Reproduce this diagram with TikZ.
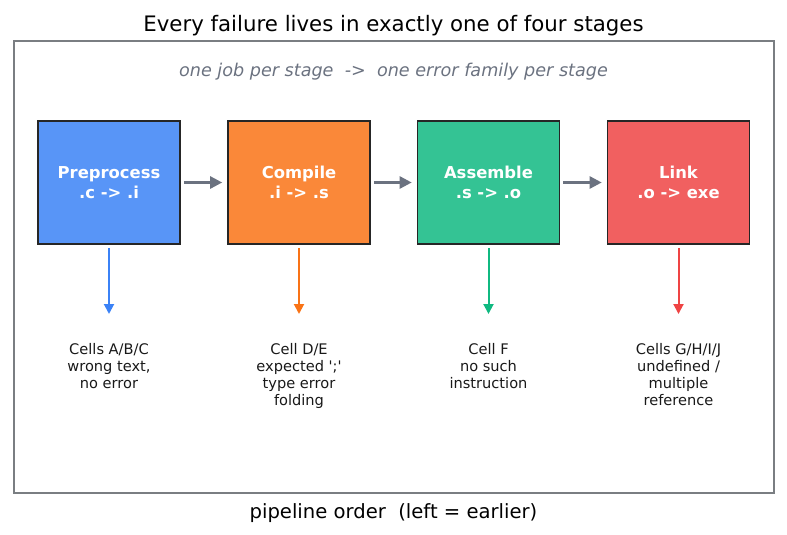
\documentclass[tikz,border=0pt]{standalone}
\usepackage{fontspec}
\setmainfont{DejaVu Sans}
\newfontfamily\plaindejavu{DejaVu Sans}
\usetikzlibrary{arrows.meta,positioning}
\definecolor{stageblue}{RGB}{88,149,247}
\definecolor{stageorange}{RGB}{250,136,57}
\definecolor{stagegreen}{RGB}{52,195,148}
\definecolor{stagered}{RGB}{241,96,96}
\definecolor{lineblue}{RGB}{59,130,246}
\definecolor{lineorange}{RGB}{249,115,22}
\definecolor{linegreen}{RGB}{16,185,129}
\definecolor{linered}{RGB}{239,68,68}
\definecolor{flowgray}{RGB}{107,114,128}
\definecolor{framegray}{RGB}{122,126,130}
\tikzset{
  stagebox/.style={draw=black!85, line width=1.6pt, minimum width=142pt, minimum height=123pt,
    inner sep=0pt, text=white, align=center, font=\bfseries\fontsize{16.4}{20}\selectfont},
  flow/.style={draw=flowgray, line width=2.5pt, -{Stealth[length=12pt,width=12pt,inset=0pt]}},
  drop/.style={line width=2pt, -{Stealth[length=10pt,width=10pt,inset=0pt]}},
  cellnote/.style={align=center, font=\plaindejavu\fontsize{14.6}{17}\selectfont, text=black!90},
}
\begin{document}
\begin{tikzpicture}[x=1pt,y=-1pt]
\useasboundingbox (0,0) rectangle (787,535);
% title, frame and captions
\node (title) at (393.5,25.5) {\fontsize{21.3}{24}\selectfont Every failure lives in exactly one of four stages};
\draw [framegray, line width=1.3pt] (14,41) rectangle (774,493);
\node [text=flowgray] (motto) at (393.5,72) {\fontsize{17.6}{20}\selectfont\itshape one job per stage\ \ ->\ \ one error family per stage};
\node (axis) at (393.5,513) {\fontsize{19.6}{22}\selectfont pipeline order\ \ (left = earlier)};
% stages
\node [stagebox, fill=stageblue] (pre) at (109,182.5) {Preprocess\\.c -> .i};
\node [stagebox, fill=stageorange] (comp) at (299,182.5) {Compile\\.i -> .s};
\node [stagebox, fill=stagegreen] (asm) at (488.5,182.5) {Assemble\\.s -> .o};
\node [stagebox, fill=stagered] (link) at (678.5,182.5) {Link\\.o -> exe};
\draw [flow] ([xshift=3pt]pre.east) -- ([xshift=-5pt]comp.west);
\draw [flow] ([xshift=3pt]comp.east) -- ([xshift=-5pt]asm.west);
\draw [flow] ([xshift=3pt]asm.east) -- ([xshift=-5pt]link.west);
% error notes
\node [cellnote, anchor=north] (prenote) at (109,340) {Cells A/B/C\\wrong text,\\no error};
\node [cellnote, anchor=north] (compnote) at (299,340) {Cell D/E\\expected ';'\\type error\\folding};
\node [cellnote, anchor=north] (asmnote) at (488.5,340) {Cell F\\no such\\instruction};
\node [cellnote, anchor=north] (linknote) at (678.5,340) {Cells G/H/I/J\\undefined /\\multiple\\reference};
\draw [drop, lineblue] ([yshift=-3pt]pre.south) -- ([yshift=26pt]prenote.north);
\draw [drop, lineorange] ([yshift=-3pt]comp.south) -- ([yshift=26pt]compnote.north);
\draw [drop, linegreen] ([yshift=-3pt]asm.south) -- ([yshift=26pt]asmnote.north);
\draw [drop, linered] ([yshift=-3pt]link.south) -- ([yshift=26pt]linknote.north);
\end{tikzpicture}
\end{document}
